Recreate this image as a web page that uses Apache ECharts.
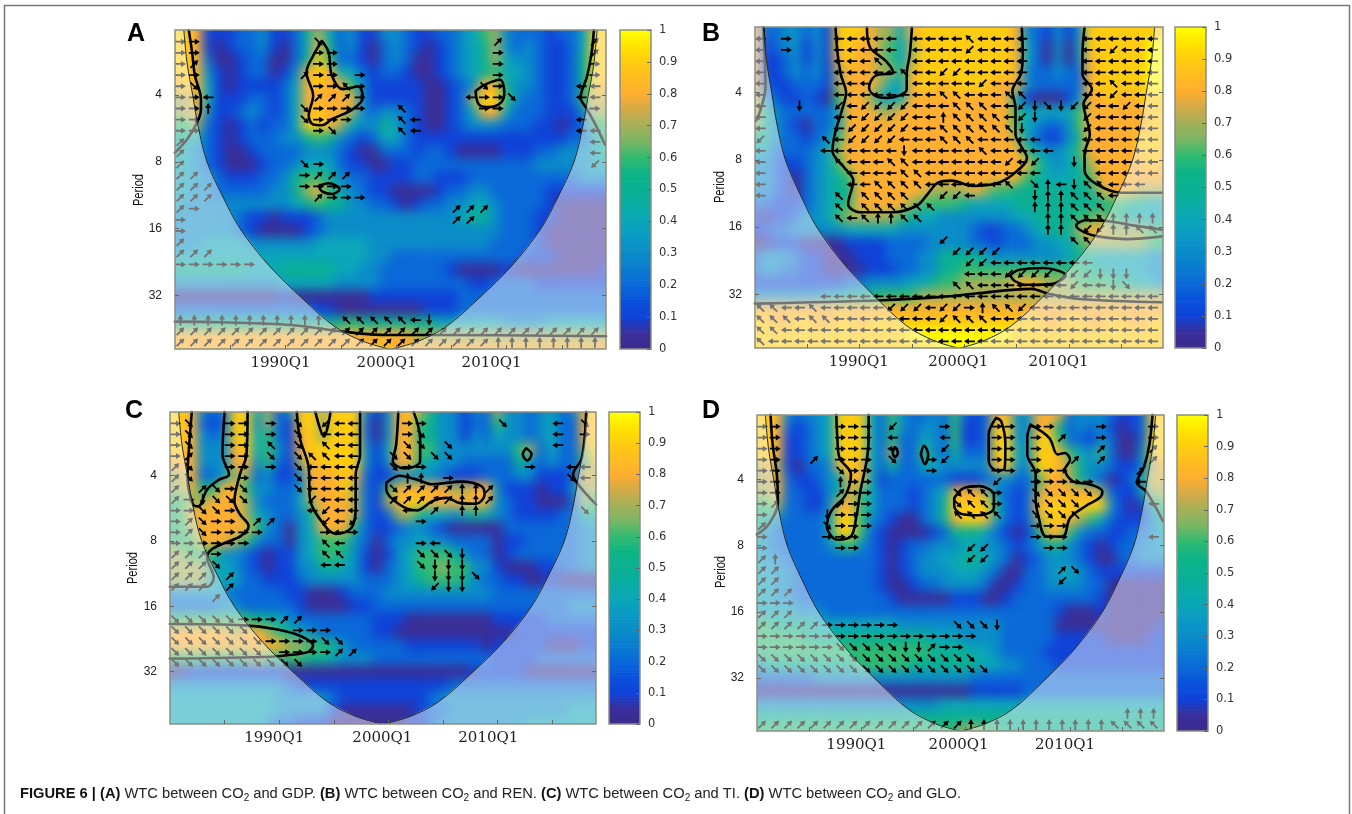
<!DOCTYPE html>
<html><head><meta charset="utf-8"><title>WTC</title>
<style>html,body{margin:0;padding:0;background:#fff}#c{position:absolute;left:0;top:0;width:1352px;height:814px}</style>
<script src="https://cdn.jsdelivr.net/npm/echarts@6/dist/echarts.min.js"></script></head><body><div id="c"></div>
<script>
// Years and log2(period) of the heat-map cells; values in tenths of coherence.
const cellYears=[1980,1981,1982,1983,1984,1985,1986,1987,1988,1989,1990,1991,1992,1993,1994,1995,1996,1997,1998,1999,2000,2001,2002,2003,2004,2005,2006,2007,2008,2009,2010,2011,2012,2013,2014,2015,2016,2017,2018,2019];
const cellLog2=[1,1.2,1.4,1.6,1.8,2,2.2,2.4,2.6,2.8,3,3.2,3.4,3.6,3.8,4,4.2,4.4,4.6,4.8,5,5.2,5.4,5.6,5.8];
const coherA=[
[9,9,8,1,1,1,2,2,3,1,1,2,5,7,4,2,3,1,1,3,3,2,1,1,2,2,3,4,6,7,3,2,2,2,1,2,2,4,9,9],
[9,9,8,1,0,1,2,2,3,1,0,2,4,8,5,2,3,1,0,2,3,2,1,0,1,2,3,4,5,7,3,2,3,2,1,1,2,4,9,9],
[9,9,8,2,0,0,1,2,2,0,0,2,5,9,6,2,2,1,0,2,3,2,0,0,1,2,3,4,5,7,4,3,3,2,1,1,2,5,9,9],
[9,9,8,3,1,0,1,2,2,0,1,3,8,9,8,4,4,2,1,2,2,1,0,0,1,2,3,4,5,6,4,4,3,2,1,1,2,5,9,9],
[8,9,8,4,1,0,1,1,1,1,2,4,8,9,8,8,6,3,1,1,1,1,1,0,0,1,2,3,8,8,5,3,3,2,1,1,2,5,9,8],
[7,7,8,4,1,1,1,2,2,1,2,4,8,8,8,8,8,3,1,1,1,1,1,0,0,1,2,7,9,9,6,3,2,2,1,1,2,6,8,7],
[7,7,8,3,1,1,2,3,2,1,2,4,8,9,8,8,7,3,2,3,3,2,1,0,0,1,2,4,8,8,4,2,2,2,1,1,1,3,7,7],
[6,6,7,2,1,0,1,2,1,2,2,4,9,9,8,7,4,3,3,5,4,2,1,0,0,1,2,3,3,3,2,2,2,1,1,0,1,2,6,6],
[5,5,4,2,1,0,1,2,2,2,3,3,5,6,5,3,2,1,2,4,4,2,1,1,1,1,1,1,1,1,1,1,1,1,1,1,2,2,4,6],
[5,4,3,2,1,0,0,1,2,2,2,2,3,3,3,2,1,0,0,2,2,2,1,2,2,1,0,0,0,0,1,1,1,2,2,3,3,3,4,5],
[4,4,3,2,1,0,0,0,1,2,2,3,4,4,4,2,1,1,0,0,1,1,2,2,2,2,2,2,2,2,2,2,2,3,3,3,3,3,4,4],
[4,4,3,3,2,1,1,1,2,2,3,5,6,6,5,3,2,2,1,1,1,1,2,2,1,1,1,2,2,2,2,2,2,2,2,2,2,3,3,3],
[4,4,3,3,2,2,2,2,2,3,3,5,7,8,6,4,3,2,1,1,0,0,0,0,1,2,2,3,3,2,2,2,2,2,1,1,1,1,1,1],
[4,3,3,3,3,3,3,3,3,3,3,4,5,6,5,5,3,3,2,2,1,0,1,2,2,3,3,4,4,3,2,2,2,2,1,0,0,0,0,0],
[3,3,3,3,3,3,2,1,1,0,1,1,1,2,3,3,3,3,3,3,3,3,3,3,3,3,4,5,5,3,2,2,2,1,1,0,0,0,0,0],
[3,3,3,3,3,3,2,1,0,0,0,0,1,2,3,3,3,3,3,3,3,3,3,3,3,3,3,3,3,3,2,2,2,1,0,0,0,0,0,0],
[3,3,3,4,4,4,4,3,3,3,3,3,3,4,4,4,4,4,3,3,3,3,3,3,3,3,3,3,3,2,2,2,2,1,0,0,0,0,0,0],
[4,4,4,4,4,4,4,4,4,4,4,4,4,4,4,4,4,4,3,3,2,2,2,2,2,2,2,2,2,2,2,2,1,1,1,0,0,0,0,0],
[5,5,5,5,5,5,5,4,4,4,5,5,5,5,5,4,4,3,3,2,2,2,2,2,2,1,0,0,0,0,1,0,0,0,0,0,0,0,0,1],
[3,3,3,3,3,3,3,3,3,3,4,4,4,4,4,3,3,3,3,2,2,2,2,2,2,2,2,1,1,2,2,2,2,1,1,1,1,1,1,1],
[0,0,0,0,0,0,0,0,0,0,1,0,0,0,0,0,0,0,1,1,1,1,1,1,1,1,2,2,2,2,2,2,2,2,2,2,2,2,2,2],
[2,2,2,2,2,2,2,2,2,2,2,2,2,1,1,0,0,0,0,0,0,0,0,1,1,1,2,2,2,2,2,2,2,2,2,2,2,2,2,2],
[5,5,5,5,5,5,5,5,5,5,5,5,5,5,5,5,6,5,5,5,5,5,5,5,4,4,4,4,4,4,3,3,3,3,4,4,4,4,4,4],
[8,8,8,8,8,8,8,8,8,8,8,8,8,8,8,8,8,8,8,8,8,8,7,7,7,7,7,7,7,7,7,7,7,7,7,7,7,7,7,7],
[8,8,8,8,8,8,8,8,8,8,8,8,8,8,8,8,8,8,8,9,8,8,8,8,8,8,8,8,8,8,8,8,8,8,8,8,8,8,8,8]];
const coherB=[
[8,2,2,3,3,2,3,1,9,9,9,8,7,7,4,8,9,9,9,9,9,9,9,9,9,8,3,2,1,3,1,3,9,9,9,9,9,9,9,9],
[8,1,2,3,3,1,3,1,9,9,8,8,7,6,4,7,9,9,9,9,9,9,9,9,9,8,4,2,0,3,0,3,9,9,9,9,9,9,10,10],
[8,1,1,2,3,1,3,1,8,9,8,8,7,6,4,7,9,9,9,9,9,9,9,9,9,8,4,2,0,3,0,3,8,9,9,9,9,9,10,10],
[8,1,1,2,3,2,3,1,7,8,8,8,7,7,5,8,9,9,9,9,9,9,9,9,9,8,3,2,2,3,2,2,8,9,9,9,9,9,10,10],
[8,2,1,1,2,2,2,1,7,8,8,8,7,4,4,8,9,9,8,9,9,9,9,8,8,8,3,2,2,2,2,2,8,9,9,9,9,9,10,10],
[8,3,2,1,1,2,1,0,6,8,8,7,4,4,4,8,8,8,8,8,8,8,8,8,8,4,1,0,0,0,1,3,8,8,9,8,8,9,9,9],
[8,5,3,2,2,2,2,2,4,8,8,8,7,7,8,8,8,8,8,8,8,8,8,8,8,6,4,4,4,4,4,6,8,8,8,8,8,8,9,9],
[7,5,3,2,1,0,2,2,4,8,8,8,8,8,8,8,8,8,8,8,8,8,8,8,8,6,4,3,2,2,3,6,8,8,8,8,8,8,9,9],
[5,5,3,2,2,1,2,3,6,8,8,8,8,8,8,8,8,8,8,8,8,8,8,8,8,7,4,2,1,1,3,5,8,8,8,8,8,9,9,9],
[4,4,2,2,2,2,3,4,7,8,8,8,8,8,8,8,8,8,8,8,8,8,8,8,8,8,6,4,3,3,4,6,8,8,8,8,8,9,9,9],
[3,3,2,1,1,2,3,4,6,8,8,8,8,8,8,8,8,8,8,8,8,8,8,8,8,8,8,6,4,3,4,5,7,8,8,8,8,8,9,8],
[3,3,2,1,0,2,3,4,5,6,8,8,8,8,8,8,8,8,8,8,8,8,8,8,8,8,6,5,4,4,4,5,6,8,8,8,8,8,8,8],
[3,3,2,1,0,2,3,4,5,5,8,8,8,8,8,8,8,7,7,7,7,8,7,6,6,5,5,5,5,5,5,5,5,7,8,8,8,7,7,7],
[2,2,1,1,1,2,3,4,5,6,8,8,8,8,8,7,6,6,6,6,5,4,4,4,4,5,5,5,5,5,5,5,5,5,6,6,5,5,4,4],
[1,0,1,1,2,3,3,4,6,7,7,7,7,7,6,5,4,4,3,3,3,3,3,3,3,4,4,5,5,5,5,6,6,7,6,5,4,4,4,4],
[1,1,2,2,3,3,3,3,3,4,4,4,4,4,3,3,3,3,3,3,3,2,1,1,2,2,3,4,5,5,5,7,8,8,7,7,7,7,6,6],
[0,0,1,1,1,0,0,0,0,1,1,1,1,2,2,2,2,3,3,3,3,2,2,1,2,2,2,3,3,4,4,6,7,7,7,7,7,7,6,6],
[2,3,3,3,2,1,1,0,0,0,1,1,1,2,2,2,3,3,5,5,5,5,4,3,3,3,3,3,3,3,4,5,5,4,4,4,4,4,3,3],
[2,3,3,2,2,1,1,0,0,0,0,1,1,1,2,2,3,3,5,5,6,6,6,6,6,6,6,6,6,6,6,6,5,5,4,4,4,4,3,3],
[1,1,1,1,1,1,1,1,1,2,2,3,3,3,3,4,4,5,6,6,7,7,7,7,7,8,8,8,7,7,7,6,6,6,6,5,5,4,4,3],
[3,3,3,3,3,3,3,4,4,5,5,5,6,6,6,6,7,7,7,7,7,7,7,7,7,7,7,7,7,7,7,7,7,7,7,7,7,7,7,7],
[8,8,8,8,8,8,8,8,8,8,8,8,8,8,8,8,8,8,8,8,8,8,8,8,8,8,8,8,8,8,8,8,8,8,8,8,8,8,8,8],
[9,9,8,8,9,9,8,8,9,9,8,9,9,9,9,9,9,9,9,9,9,9,9,9,9,9,9,9,8,8,9,9,8,8,9,9,8,8,9,9],
[9,9,9,9,9,9,9,9,9,9,9,9,9,9,9,10,10,10,10,10,10,10,10,10,10,9,9,9,9,9,9,9,9,9,9,9,9,9,9,9],
[9,9,9,9,9,9,9,9,9,9,9,9,9,9,9,9,9,9,10,10,10,10,9,9,9,9,9,9,9,9,9,9,9,9,9,9,9,9,9,9]];
const coherC=[
[9,9,8,3,2,3,9,9,4,7,2,3,9,9,7,9,9,9,3,1,3,8,9,7,5,3,3,1,3,2,7,3,3,2,3,4,2,3,8,9],
[9,9,8,2,1,2,9,9,3,7,2,1,9,9,7,9,9,9,2,0,3,8,8,6,5,3,3,1,2,2,6,3,3,2,3,4,2,2,8,9],
[9,9,8,3,2,3,9,9,4,6,2,1,8,9,7,9,9,9,2,0,3,8,8,5,5,3,3,1,3,2,4,3,3,2,3,4,2,2,8,9],
[9,9,8,3,3,3,8,9,4,6,3,1,8,9,9,9,9,9,3,1,4,8,8,6,6,3,3,3,3,3,3,3,6,7,2,4,2,2,7,9],
[8,8,8,3,3,3,8,8,3,6,2,1,7,8,9,9,9,9,3,1,3,8,8,5,4,3,3,2,2,2,2,2,5,3,2,3,2,2,6,8],
[7,7,8,2,2,4,7,7,2,3,1,1,3,8,8,8,9,8,2,1,1,3,3,3,3,2,1,1,1,2,2,2,3,3,1,1,1,2,8,7],
[7,7,8,5,6,8,8,6,3,3,2,2,3,8,8,8,9,7,2,1,6,8,8,8,8,8,7,7,8,8,3,1,1,1,0,1,1,3,7,7],
[6,6,7,7,8,8,8,7,3,2,2,2,4,7,8,8,8,7,2,1,7,8,9,9,8,8,8,8,8,8,3,2,1,1,0,0,0,2,7,6],
[6,6,8,8,8,8,8,7,4,3,2,2,3,5,8,8,8,7,2,1,2,7,7,5,4,4,3,4,5,4,3,2,1,1,1,1,2,2,5,5],
[6,6,7,8,8,8,8,8,6,3,2,0,3,4,8,8,8,5,2,1,1,2,3,3,2,1,0,0,0,0,0,2,2,2,2,2,2,2,3,3],
[6,6,6,8,8,8,7,6,3,2,2,0,3,4,6,6,6,3,2,0,2,3,3,4,3,3,2,2,2,2,0,1,1,2,2,2,2,2,3,3],
[7,7,6,6,6,3,3,2,1,0,1,1,3,4,6,6,5,3,1,0,1,3,4,6,6,6,5,3,2,2,0,1,2,2,2,2,2,2,3,3],
[7,7,7,7,4,4,3,2,1,0,1,1,3,3,5,5,4,3,1,0,2,3,4,6,6,7,6,6,3,3,1,0,0,0,1,1,2,2,3,3],
[7,7,7,7,4,4,4,2,2,1,1,1,2,3,3,3,3,3,2,2,2,3,4,5,6,6,6,5,3,2,2,1,1,0,0,1,0,0,0,0],
[3,3,3,3,4,3,2,2,2,2,2,1,1,0,0,0,1,2,2,2,3,3,3,3,3,3,3,3,3,3,2,2,2,2,2,2,2,2,2,2],
[2,2,2,2,2,3,3,2,2,2,2,2,1,0,0,0,0,1,1,2,2,2,2,2,2,2,2,2,2,2,2,2,2,2,2,2,2,3,3,3],
[6,6,6,6,6,6,6,6,5,5,4,3,2,2,2,2,2,2,2,1,1,1,0,0,0,0,0,0,0,0,1,1,1,1,1,2,2,2,2,2],
[8,8,8,8,8,8,7,8,8,7,6,5,4,3,2,2,2,2,2,1,1,0,0,0,0,0,0,0,0,0,0,0,1,1,1,1,1,1,1,1],
[8,8,8,8,8,8,8,8,8,8,8,7,7,6,6,5,3,2,2,2,2,2,1,1,1,1,1,1,1,0,1,1,1,1,1,0,0,0,1,1],
[6,6,6,6,6,6,6,6,7,6,6,6,6,5,5,4,3,3,3,2,2,2,2,2,2,2,2,2,2,2,1,1,1,1,2,2,2,2,2,2],
[0,0,1,1,1,1,1,1,1,1,1,0,0,0,0,0,0,0,0,0,0,0,0,0,0,0,0,0,1,1,1,1,1,0,0,0,0,0,0,0],
[3,3,3,3,3,3,3,3,3,3,3,2,1,1,1,1,1,1,1,1,1,1,1,1,1,1,2,2,2,2,2,2,2,2,2,2,2,2,2,2],
[4,4,4,4,4,4,4,4,4,4,3,3,3,3,3,2,1,1,1,1,1,1,1,1,2,3,3,3,3,3,3,3,3,3,3,3,3,3,3,3],
[4,4,4,4,4,4,4,4,4,4,3,3,3,3,3,1,0,0,0,0,0,0,0,1,2,2,3,3,3,3,3,3,3,3,3,3,3,4,4,4],
[4,4,4,4,4,4,4,4,4,3,2,2,1,1,1,0,0,0,0,0,0,0,1,1,2,3,3,3,3,3,3,3,3,4,4,4,4,4,4,4]];
const coherD=[
[9,9,8,3,2,3,3,4,9,9,9,4,2,6,3,2,2,3,2,6,2,1,2,8,8,3,3,8,8,8,2,3,3,3,2,1,1,2,9,9],
[9,9,8,2,1,2,3,4,9,9,9,4,2,6,3,2,3,3,2,6,1,1,2,9,9,3,3,8,8,5,2,3,2,3,1,0,1,2,9,9],
[9,9,8,1,1,2,3,4,9,9,9,4,2,6,2,2,4,3,2,6,1,1,2,9,9,3,3,9,9,6,2,2,1,3,2,0,0,2,9,9],
[9,9,8,1,1,2,3,4,9,9,9,4,2,7,2,2,6,3,2,5,2,2,2,9,9,4,3,9,9,8,6,4,3,6,2,0,0,3,9,9],
[7,8,7,1,0,2,2,3,8,9,8,4,2,5,2,2,4,4,3,3,3,3,3,8,9,3,3,9,9,8,7,5,3,3,2,1,1,3,7,8],
[7,7,8,2,1,1,2,3,4,8,8,4,1,2,2,2,2,2,2,1,1,1,2,3,3,2,2,6,8,8,7,5,3,2,0,1,2,4,8,7],
[7,7,8,2,2,1,1,3,5,8,6,4,2,2,2,1,2,3,4,8,8,8,7,3,2,1,2,7,8,8,8,8,8,7,2,1,1,4,7,7],
[6,6,7,2,2,1,1,3,8,8,6,4,2,2,2,1,2,3,5,9,9,9,9,5,2,1,2,8,9,9,9,9,9,9,3,1,0,1,5,6],
[6,5,3,2,2,2,2,4,9,9,6,3,2,1,0,0,2,3,5,8,9,9,8,4,2,1,2,7,9,9,8,7,6,4,2,1,1,1,3,5],
[5,3,2,2,2,2,2,4,9,9,6,2,1,0,0,0,0,1,2,5,5,5,4,2,1,0,1,5,8,8,6,3,2,2,1,1,2,2,3,4],
[4,3,2,2,2,2,2,3,5,6,3,2,1,0,1,2,2,3,3,3,4,4,3,3,2,1,2,3,5,5,3,2,1,0,1,2,2,3,3,4],
[4,3,3,2,2,2,2,2,2,2,2,2,1,0,1,2,3,3,4,4,5,5,4,3,2,0,1,2,3,3,3,2,1,0,0,2,2,3,3,3],
[4,4,3,3,2,2,2,2,2,2,2,2,1,0,1,2,3,3,3,4,4,4,3,2,0,0,2,2,3,4,4,3,2,1,1,1,1,1,1,1],
[4,4,3,3,2,2,2,2,2,2,2,2,1,0,0,1,2,2,3,3,3,3,2,0,0,1,2,2,3,3,3,3,2,2,0,0,0,0,0,0],
[4,4,3,3,2,2,2,2,2,2,2,2,2,1,0,0,0,0,0,1,1,1,0,0,1,2,2,2,2,2,2,2,2,1,0,0,0,0,0,0],
[4,4,4,4,3,3,3,2,2,2,2,2,2,2,2,2,2,2,2,2,2,2,2,2,2,2,2,2,2,1,0,0,0,1,0,0,0,0,0,0],
[6,6,5,5,5,5,4,4,4,4,4,4,4,4,3,3,3,3,3,3,3,3,3,3,2,2,2,2,2,0,0,0,0,0,0,0,0,0,0,1],
[6,6,6,6,6,5,5,5,5,5,5,5,5,5,5,5,5,4,4,4,3,3,3,3,2,2,2,2,2,1,1,1,1,1,0,0,0,0,1,1],
[6,6,6,6,6,6,6,6,6,6,6,6,6,6,6,6,6,5,5,5,5,4,4,3,2,2,2,2,1,1,1,1,1,1,1,1,1,1,1,1],
[3,5,5,5,5,5,5,5,5,5,6,6,6,6,6,5,5,5,5,5,5,5,4,4,3,3,2,2,2,1,1,1,1,1,1,1,1,1,1,1],
[2,2,2,2,2,2,3,3,3,3,3,3,3,3,3,3,3,3,3,3,3,2,2,2,2,2,2,2,2,2,2,2,2,2,2,2,2,2,2,2],
[0,0,0,0,0,0,0,0,0,0,0,0,0,0,0,0,0,0,0,0,0,1,1,1,1,1,2,2,2,2,2,2,2,2,2,2,2,2,2,2],
[3,3,3,3,3,3,3,3,3,3,3,3,3,3,3,3,3,3,4,4,4,4,4,4,4,4,4,4,4,4,4,4,4,4,4,4,4,4,4,4],
[5,5,5,5,5,5,5,5,5,5,5,5,5,5,5,5,5,5,5,5,5,5,5,5,5,5,5,5,5,5,5,5,5,5,5,5,5,5,5,5],
[6,6,6,6,6,6,6,6,6,6,6,6,6,6,6,6,6,6,6,6,7,7,6,6,5,5,5,5,5,5,5,5,5,5,5,5,5,5,5,5]];

// Phase arrows: one string per period row, one letter per column.
// w up, s down, a left, d right, q up-left, e up-right, z down-left, c down-right.
const arrowYears=[1980.5,1981.75,1983,1984.25,1985.5,1986.75,1988,1989.25,1990.5,1991.75,1993,1994.25,1995.5,1996.75,1998,1999.25,2000.5,2001.75,2003,2004.25,2005.5,2006.75,2008,2009.25,2010.5,2011.75,2013,2014.25,2015.5,2016.75,2018];
const arrowFirstLog2=1.2, arrowRowsPerOctave=6;
const phaseA=[
"dd........c............e......e",
"dd........dd...........d......e",
"de........dd...........d......d",
"dd.......edd.d.........d......d",
"dc........ddqd........cd.....aa",
"dda.......eeed.......addc....aa",
"ddw......cdddd..q.....dd......d",
"dd.......cddd...qa...........a",
"dd........dc....qa...........aa",
"e.............................a",
"e.............................a",
"e........cd...................z",
"ee.......deee..................",
"eee......dddd..................",
"eee.......eddd.................",
"ed..................eee........",
"d...................ee.........",
"d..............................",
"e..............................",
"eee............................",
"dddddd.........................",
"...............................",
"...............................",
"...............................",
"...............................",
"wwwwwwwwwww.qqqqqas............",
"eeeeeeeeeeeeeeeeeeeeeeeeeeeeeee",
"eeeeeeeeeeeeeeeeeeeeeeewwwwwwww"];
const phaseB=[
"a.d...aaaaa.aaaaqaaaa....aaaaaa",
"a.d...aaaaa.aaaazaaaa....aazaaa",
"a.....aaaq..aaaaaaaaa....aaaaaa",
"a.....aaaaaqaazzaaaaa....aaaaaa",
"a.....aaa...aaaaazaaa....aaqaaa",
"a.....aaaaaaaaqqaaaqq....aazaaa",
"a..s..zazzzzaaaqqqaazscszzaazaa",
"a.....aazzzzaawqqqqazs...zaaaaa",
"a.....azzzzzaaqqqqqqs....zaaaaa",
"z....qazzzzaaaqqqaaaaa...aaaaaa",
"a....aaaaaasaaaaaqaaaaa..aaaaaa",
"a.....qaaaqqaaaaaaazaz..s.aaaaa",
"a......aaaaqqaaaaaaaaa....aaaaa",
"a......aaqqqqaaaaaaq.cwasqqaaa.",
"a.....q.qqqq..zza....swwqqqa...",
"......q.qqqqqq.......wwwqqq....",
"......qaqwwqq.........wwqqqwwww",
"......................ww.zzwwqq",
"..............z.........qq.....",
"...............zzzz............",
"................zzaaaaaaaa.....",
"................aaazzzz.zzsss..",
"...............qqaaaaaaazaasc..",
".....aaaaaaaaaaaaaaaaaaaaaaaaaa",
"qqaaqaaaaazzzazzdwqqzaaaaaaaaaa",
"qqqaqqaaaaaaaazqqqaaaaaaaaaaaaa",
"qqaaaaaaaaaaaaaaaaaaaaaaaaaaaaa",
"qaaaaaaaaaaaaaaaaaaaaaaaaaaaaaa"];
const phaseC=[
"dc..dd.d.c.zaa...dd.....c...a.c",
"dc..dd.d.c.aaa...dc.........a.d",
"dc..dd.q.c.qaa...cc.c.......a..",
"de..dd.c.cqqaa..cc.cc..........",
"ec..dd.d.caaaa..cdd.......d..aa",
"ec...d...caaaa...ww.d........ca",
"e.ecdc...caaaa..ceeeewwe.......",
"edsccc....zaaa..eeeeewwe.......",
"ddccd.....azaa...a.e.ww.......c",
"decdd.ee...zaz....d............",
"decdddd....dad.................",
"dddddd.....qa.....da...........",
"eeed.......qq.....cccs.........",
"eeec.......aa.....csss.........",
"eee.e..............sssc........",
"eee.e..............zss.........",
"...e...........................",
"...............................",
"cccccdddee.....................",
"cccccc...ddd...................",
"cccccccddddcc..................",
"ccccccc.ddddee.................",
"cccccccccc.....................",
"...............................",
"...............................",
"...............................",
"...............................",
"..............................."];
const phaseD=[
"dd....ddd.z...d...dd.dd...d...d",
"dd....ddd.a...a...dd.d.e..d...d",
"dd....ddd.a...z...dd.d....e...e",
"dd..e.ddd.c..dz...dd.d..e.e...e",
"dd....cdd....d....dd.ddd.....e.",
"dd....wdd.........z..ddddd...a.",
"dd....edd......cqqd..ccccc.....",
"de....edd......cqqd..cccc.....a",
"d....sddd......qqqq..cccq......",
"e....cddd............ddd.......",
"d....ddd.............ddd......a",
"d.....dd........zz....dd.......",
"ew..............zz.............",
"ee.....................ec......",
"ee.....................z.......",
"eee............................",
"ddd............................",
"eee............................",
"eeeeedddddd....cccs............",
"ddddddddddddddddd..............",
"ddddddcccccssedd...............",
"ccccccccccccccccc..............",
"cccccccccccccccccc.............",
"...............................",
"...............................",
"...............................",
"............................www",
"eeeeeeeeeeeeeeeewwwwwwwwwwwqqqq"];
const phaseDegrees={w:0,q:45,a:90,z:135,s:180,c:-135,d:-90,e:-45};

// Cone of influence, [year, log2 period].
const coneLeft=[[1980.8,1.025],[1981.1,1.53],[1981.6,2],[1982.1,2.47],[1982.9,3],[1984.3,3.51],[1985.9,4],[1988.5,4.55],[1991.5,5.04],[1994.5,5.47],[1997.1,5.69],[1999.4,5.8]];
const coneRight=[[2018.2,1.025],[2017.9,1.53],[2017.4,2],[2016.9,2.47],[2016.1,3],[2014.7,3.51],[2013.1,4],[2010.5,4.55],[2007.5,5.04],[2004.5,5.47],[2001.9,5.69],[1999.6,5.8]];

// Significance contours, [year, log2 period].
const contourA=[
[[1981.25,1.03],[1981.55,1.36],[1981.8,1.71],[1982.35,2.06],[1982.35,2.21],[1982,2.41],[1981.1,2.66],[1980,2.86]],
[[1993.3,1.19],[1993.9,1.36],[1994.2,1.71],[1995.2,1.91],[1996.6,1.87],[1997,2.04],[1996.1,2.21],[1994.2,2.36],[1993.3,2.45],[1992.5,2.44],[1992.1,2.31],[1992.5,2.01],[1991.9,1.66],[1992.5,1.41],[1993.3,1.19]],
[[2007.2,1.94],[2008.1,1.84],[2009.4,1.77],[2009.8,1.96],[2009.5,2.11],[2008.4,2.18],[2007.5,2.14],[2007.2,1.94]],
[[1993,3.36],[1993.9,3.32],[1994.9,3.41],[1994.2,3.48],[1993.3,3.44],[1993,3.36]],
[[2017.9,1.03],[2017.7,1.36],[2017.3,1.71],[2016.7,2.04],[2017.2,2.19],[2018.1,2.46],[2018.9,2.74]],
[[1980,5.39],[1984.2,5.4],[1990.5,5.44],[1995.2,5.54],[1999.2,5.59],[2003,5.59],[2019,5.61]]];
const contourB=[
[[1987.7,1.03],[1987.9,1.43],[1988.2,1.73],[1988.7,2],[1988.2,2.32],[1987.7,2.57],[1987.4,2.87],[1988.5,3.11],[1989.4,3.31],[1988.9,3.66],[1990,3.78],[1993.2,3.78],[1995.5,3.68],[1996.5,3.51],[1997.5,3.34],[1998.8,3.31],[2000.8,3.39],[2003.1,3.35],[2004.7,3.21],[2006,2.97],[2005.4,2.79],[2004.9,2.62],[2004.9,2.22],[2004.6,1.98],[2005.4,1.73],[2005.6,1.43],[2005.5,1.03]],
[[1990.7,1.03],[1991,1.33],[1992.5,1.53],[1993.2,1.7],[1991.5,1.75],[1990.9,1.93],[1991.5,2.05],[1992.7,2.08],[1994.5,1.95],[1994.5,1.73],[1994.8,1.43],[1995,1.03]],
[[2011.5,1.03],[2011.3,1.43],[2011.3,1.73],[2012.2,1.95],[2011.4,2.17],[2012,2.62],[2011.5,2.92],[2011.5,3.16],[2012.6,3.36],[2015,3.49],[2018.9,3.49]],
[[2018.9,4.04],[2016.3,3.98],[2013.6,3.91],[2011.6,3.9],[2010.7,3.98],[2011.5,4.08],[2012.8,4.14],[2015.6,4.18],[2018.9,4.14]],
[[2004.4,4.72],[2005.2,4.64],[2007.6,4.61],[2009.7,4.72],[2008.3,4.85],[2006,4.86],[2004.8,4.8],[2004.4,4.72]],
[[1980,5.14],[1992.2,5.09],[1997.8,5.04],[2001.1,4.99],[2006.4,4.92],[2008,4.99],[2011,5.07],[2018.9,5.12]],
[[1980.8,1.03],[1981,1.93],[1980.5,2.27],[1980.1,2.42]]];
const contourC=[
[[1982,1.02],[1981.8,1.43],[1981.6,2.04],[1982.1,2.44],[1982.6,2.47],[1983.4,2.21],[1984.5,2.06],[1985.4,1.98],[1984.8,1.68],[1985,1.02]],
[[1987.1,1.02],[1987,1.68],[1986.4,1.98],[1985.9,2.39],[1986.4,2.59],[1987.2,2.77],[1986.5,2.92],[1985,3.03],[1983.8,3.13],[1983.4,3.25],[1984,3.56],[1983.4,3.7],[1980,3.7]],
[[1991.6,1.02],[1991.9,1.43],[1992.7,1.88],[1992.8,2.34],[1994.1,2.75],[1995.2,2.89],[1996.6,2.8],[1997,2.49],[1997,1.98],[1997.4,1.68],[1997.4,1.02]],
[[1993.3,1.02],[1994.1,1.4],[1994.7,1.02]],
[[2000.9,1.02],[2000.7,1.53],[2000.4,1.78],[2001.5,1.89],[2002.9,1.78],[2002.9,1.43],[2002.3,1.02]],
[[1999.8,2.11],[2001,2],[2002.6,2.06],[2004,2.13],[2006.7,2.09],[2008.5,2.16],[2008.8,2.29],[2008,2.43],[2006.6,2.42],[2005.3,2.34],[2004,2.39],[2002.6,2.53],[2001,2.44],[1999.8,2.21],[1999.8,2.11]],
[[2012.6,1.58],[2013.1,1.67],[2012.7,1.77],[2012.3,1.67],[2012.6,1.58]],
[[2018.1,1.02],[2017.7,1.73],[2016.9,1.98],[2017.4,2.14],[2019,2.44]],
[[1980,4.27],[1986.8,4.29],[1989.7,4.35],[1991.9,4.45],[1993.1,4.6],[1992.6,4.7],[1990.6,4.75],[1989.4,4.77],[1980,4.8]]];
const contourD=[
[[1981.3,1.02],[1981.5,1.47],[1981.9,1.92],[1982,2.35],[1981.1,2.68],[1980,2.83]],
[[1987.6,1.02],[1987.7,1.37],[1987.9,1.67],[1989,1.92],[1988.5,2.23],[1987.1,2.48],[1986.7,2.71],[1987.7,2.91],[1989,2.86],[1989.5,2.58],[1989.9,2.18],[1990.5,1.72],[1990.7,1.37],[1990.7,1.02]],
[[1993,1.6],[1993.2,1.51],[1993.5,1.6],[1993.2,1.66],[1993,1.6]],
[[1995.7,1.62],[1996,1.49],[1996.4,1.62],[1996.1,1.77],[1995.7,1.62]],
[[1998.9,2.28],[1999.8,2.13],[2001.3,2.1],[2002.7,2.23],[2002.7,2.43],[2001.3,2.54],[1999.6,2.52],[1998.9,2.4],[1998.9,2.28]],
[[2002.9,1.07],[2002.2,1.32],[2002.2,1.72],[2002.9,1.86],[2003.7,1.85],[2003.8,1.47],[2003.4,1.12],[2002.9,1.07]],
[[2006.2,1.17],[2005.9,1.37],[2005.9,1.62],[2006.7,1.92],[2006.7,2.28],[2007,2.58],[2007.7,2.86],[2009.3,2.86],[2010,2.58],[2011.5,2.4],[2012.8,2.28],[2013.1,2.18],[2011.8,2.07],[2010.3,2.03],[2009.5,1.85],[2010,1.7],[2009.5,1.6],[2008.8,1.62],[2008,1.37],[2006.2,1.17]],
[[2017.9,1.02],[2017.6,1.47],[2017.1,1.8],[2016.4,2.05],[2017.3,2.18],[2018.9,2.63]]];

const periodTicks=[4,8,16,32];
const yearTicks=[1985,1990,1995,2000,2005,2010,2015];
// Where each panel's decade labels sit on its year axis (the source labels drift a little off the ticks).
const yearLabelsAt=[[1990,1999.6,2009.1],[1990.4,1999.9,2009.5],[1990,1999.9,2009.6],[1990,1999.8,2010]];
const barLabels=[0,0.1,0.2,0.3,0.4,0.5,0.6,0.7,0.8,0.9,1];
const palette=['#3b2a8c','#3a2f9c','#0f42d8','#0a52dc','#0a68d8','#0a7cd0','#0a8cc8','#0a9ac4','#0aa6b8','#0aaca4','#0ab092','#0db486','#30ba70','#78b664','#a4b058','#d2aa48','#ffae30','#ffbc20','#ffcc10','#ffe400','#ffff00'];
const panelLetters=['A','B','C','D'];
const layouts=[
 {l:175,r:606,t:30,b:349,barL:620,barW:31},
 {l:755,r:1163,t:27,b:348,barL:1175,barW:31},
 {l:170,r:596,t:412,b:724,barL:609,barW:31},
 {l:757,r:1164,t:415,b:731,barL:1177,barW:31}];
const fields=[coherA,coherB,coherC,coherD];
const phases=[phaseA,phaseB,phaseC,phaseD];
const contours=[contourA,contourB,contourC,contourD];

const Ymin=1980,Ymax=2019,Lmin=1.025,Lmax=5.8,PADC=2,PADR=2;
const grid=[],xAxis=[],yAxis=[],series=[],colored=[];
layouts.forEach((f,p)=>{
  const w=f.r-f.l,h=f.b-f.t,sx=w/(Ymax-Ymin),sy=h/(Lmax-Lmin);
  // heat grid (slightly larger than the frame so the smoothing never fades at its edge)
  grid.push({zlevel:0,show:false,left:f.l-(PADC+.5)*sx,width:(cellYears.length+2*PADC)*sx,top:f.t-(Lmin-cellLog2[0]+.1+PADR*.2)*sy,height:(cellLog2.length+2*PADR)*.2*sy,containLabel:false});
  const catX=[],catY=[];
  for(let c=-PADC;c<cellYears.length+PADC;c++)catX.push(String(c));
  for(let r=-PADR;r<cellLog2.length+PADR;r++)catY.push(String(r));
  xAxis.push({type:'category',gridIndex:grid.length-1,data:catX,show:false,zlevel:0});
  yAxis.push({type:'category',gridIndex:grid.length-1,data:catY,inverse:true,show:false,zlevel:0});
  const heatData=[],m=fields[p];
  for(let r=-PADR;r<cellLog2.length+PADR;r++)for(let c=-PADC;c<cellYears.length+PADC;c++){
    const rr=Math.min(cellLog2.length-1,Math.max(0,r)),cc=Math.min(cellYears.length-1,Math.max(0,c));
    const v=m[rr][cc];heatData.push([c+PADC,r+PADR,v===0?0.03:v/10]);
  }
  colored.push(series.length);
  series.push({type:'heatmap',name:'coherence '+panelLetters[p],xAxisIndex:xAxis.length-1,yAxisIndex:yAxis.length-1,data:heatData,zlevel:0,silent:true,progressive:0,itemStyle:{borderWidth:0}});

  // main grid
  grid.push({zlevel:1,z:9,show:true,backgroundColor:'transparent',borderColor:'#8b8f80',borderWidth:1.5,left:f.l,top:f.t,width:w,height:h});
  const gi=grid.length-1,xi=xAxis.length,yi=yAxis.length;
  xAxis.push({type:'value',gridIndex:gi,min:Ymin,max:Ymax,zlevel:1,z:10,splitLine:{show:false},axisLine:{show:false,onZero:false},
    axisTick:{customValues:yearTicks,inside:true,length:4,lineStyle:{color:'#666',width:1}},
    axisLabel:{customValues:yearLabelsAt[p],formatter:v=>(Math.round(v/10)*10)+'Q1',fontFamily:'DejaVu Serif',fontSize:15,color:'#222',margin:7,padding:[0,10,0,0]}});
  yAxis.push({type:'value',gridIndex:gi,min:Lmin,max:Lmax,inverse:true,zlevel:1,z:10,splitLine:{show:false},axisLine:{show:false,onZero:false},
    axisTick:{customValues:periodTicks.map(Math.log2),inside:true,length:4,lineStyle:{color:'#666',width:1}},
    axisLabel:{customValues:periodTicks.map(Math.log2),formatter:v=>String(Math.round(Math.pow(2,v))),fontFamily:'Liberation Sans',fontSize:12,color:'#222',margin:13}});
  yAxis.push({type:'value',gridIndex:gi,position:'right',min:Lmin,max:Lmax,inverse:true,zlevel:1,z:10,splitLine:{show:false},axisLine:{show:false,onZero:false},
    axisTick:{customValues:periodTicks.map(Math.log2),inside:true,length:4,lineStyle:{color:'#666',width:1}},axisLabel:{show:false}});
  // arrows
  const arrowData=[];
  phases[p].forEach((row,k)=>{for(let j=0;j<row.length;j++){const ch=row[j];if(ch==='.')continue;
    arrowData.push([arrowYears[j],arrowFirstLog2+k/arrowRowsPerOctave,phaseDegrees[ch]]);}});
  series.push({type:'scatter',name:'phase '+panelLetters[p],xAxisIndex:xi,yAxisIndex:yi,data:arrowData,zlevel:1,z:3,silent:true,
    symbol:'path://M-0.9,11 L0.9,11 L0.9,5 L3,5 L0,0 L-3,5 L-0.9,5 Z',symbolSize:[6,11],symbolRotate:v=>v[2],itemStyle:{color:'#000',opacity:1}});
  // contours
  contours[p].forEach((pts,i)=>{
    series.push({type:'line',name:'contour '+panelLetters[p]+i,xAxisIndex:xi,yAxisIndex:yi,data:pts,zlevel:1,z:4,silent:true,symbol:'none',smooth:0.35,lineStyle:{color:'#000',width:2.6,cap:'round',join:'round'}});
  });
  // cone shading
  series.push({type:'custom',name:'cone '+panelLetters[p],xAxisIndex:xi,yAxisIndex:yi,data:coneLeft.concat(coneRight),zlevel:1,z:6,silent:true,clip:false,
    renderItem:(params,api)=>{
      if(params.dataIndex!==0)return null;
      const L=[[Ymin,Lmin]].concat(coneLeft,[[Ymin,Lmax]]).map(q=>api.coord(q));
      const R=[[Ymax,Lmin]].concat(coneRight,[[Ymax,Lmax]]).map(q=>api.coord(q));
      const st={fill:'rgba(255,255,255,0.45)'};
      return {type:'group',children:[{type:'polygon',shape:{points:L},style:st},{type:'polygon',shape:{points:R},style:st}]};
    }});
  [coneLeft,coneRight].forEach((c,i)=>{
    series.push({type:'line',name:'coi '+panelLetters[p]+i,xAxisIndex:xi,yAxisIndex:yi,data:c,zlevel:1,z:7,silent:true,symbol:'none',smooth:0.35,lineStyle:{color:'#1c2a2a',width:1}});
  });
  // colour bar
  grid.push({zlevel:1,z:9,show:true,backgroundColor:'transparent',borderColor:'#8b8f80',borderWidth:1.5,left:f.barL,top:f.t,width:f.barW,height:h});
  const bg=grid.length-1;
  xAxis.push({type:'value',gridIndex:bg,min:0,max:1,show:false,zlevel:1});
  yAxis.push({type:'value',gridIndex:bg,min:0,max:1,interval:.1,position:'right',zlevel:1,z:10,splitLine:{show:false},axisLine:{show:false,onZero:false},
    axisTick:{inside:true,length:4,lineStyle:{color:'#666'}},
    axisLabel:{formatter:v=>String(+v.toFixed(1)),fontFamily:'DejaVu Sans',fontSize:11.5,color:'#333',margin:8,customValues:barLabels}});
  const levels=[];for(let i=0;i<=100;i++)levels.push([0,i/100,i/100]);
  colored.push(series.length);
  series.push({type:'custom',name:'bar '+panelLetters[p],xAxisIndex:xAxis.length-1,yAxisIndex:yAxis.length-1,data:levels,zlevel:1,z:2,silent:true,encode:{x:0,y:1},
    renderItem:(params,api)=>{
      const lv=api.value(1),a=api.coord([0,Math.min(1,lv+.006)]),b=api.coord([1,Math.max(0,lv-.006)]);
      return {type:'rect',shape:{x:a[0],y:a[1],width:b[0]-a[0],height:b[1]-a[1]},style:{fill:api.visual('color')}};
    }});
});

const sub='{s|2}';
const caption='{b|FIGURE 6 | (A)}{r| WTC between CO}'+sub+'{r| and GDP. }{b|(B)}{r| WTC between CO}'+sub+'{r| and REN. }{b|(C)}{r| WTC between CO}'+sub+'{r| and TI. }{b|(D)}{r| WTC between CO}'+sub+'{r| and GLO.}';
const letterPos=[[136,34],[711,34],[134,411],[711,411]];
const periodPos=[[139,190],[720,187],[133,568],[721,572]];
const graphicEls=[
 {type:'polyline',zlevel:1,silent:true,shape:{points:[[4.5,814],[4.5,5.5],[1349.5,5.5],[1349.5,814]]},style:{stroke:'#777',lineWidth:1.5,fill:null}},
 {type:'text',zlevel:1,silent:true,left:20,top:786,style:{text:caption,rich:{
   b:{fontFamily:'Liberation Sans',fontWeight:'bold',fontSize:14.7,fill:'#111',lineHeight:20},
   r:{fontFamily:'Liberation Sans',fontSize:14.7,fill:'#222',lineHeight:20},
   s:{fontFamily:'Liberation Sans',fontSize:10,fill:'#222',lineHeight:20,verticalAlign:'bottom',padding:[6,0,0,0]}}}}
];
panelLetters.forEach((t,i)=>{
  graphicEls.push({type:'text',zlevel:1,silent:true,x:letterPos[i][0],y:letterPos[i][1],style:{text:t,fontFamily:'Liberation Sans',fontWeight:'bold',fontSize:25,fill:'#000',align:'center',verticalAlign:'middle'}});
  graphicEls.push({type:'text',zlevel:1,silent:true,x:periodPos[i][0],y:periodPos[i][1],rotation:Math.PI/2,scaleX:.74,style:{text:'Period',fontFamily:'Liberation Sans',fontSize:15,fill:'#111',align:'center',verticalAlign:'middle'}});
});

const chart=echarts.init(document.getElementById('c'),null,{renderer:'canvas',width:1352,height:814});
chart.setOption({animation:false,backgroundColor:'transparent',grid,xAxis,yAxis,series,
  visualMap:{show:false,min:0,max:1,dimension:2,seriesIndex:colored,inRange:{color:palette}},
  graphic:{elements:graphicEls}});
function smoothLayer(){
  const cv=document.querySelector('canvas[data-zr-dom-id="zr_0"]');
  if(!cv)return;
  cv.style.filter='blur(5.5px)';
  const clip=layouts.map(f=>`M${f.l} ${f.t}H${f.r}V${f.b}H${f.l}Z`).join(' ');
  cv.style.clipPath=`path('${clip}')`;
}
smoothLayer();
chart.on('finished',smoothLayer);
</script></body></html>
